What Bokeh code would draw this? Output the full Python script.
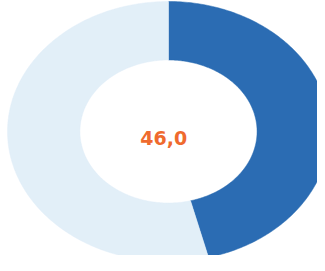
import numpy as np
from bokeh.plotting import figure
from bokeh.models import Range1d, ColumnDataSource
from bokeh.core.properties import value
from bokeh.embed import file_html
from bokeh.resources import INLINE

# data
categories = ["Share", "Rest"]
values = [46.0, 54.0]
colors = ["#2b6cb3", "#e2eff8"]
center_label = "46,0"

# layout (ellipse radii in px, used to set ranges)
W, H = 317, 255
cx, cy = 168, 131          # centre in plot pixels
rx, ry = 161, 130          # outer radii in pixels
inner = 0.55

p = figure(width=W, height=H, output_backend="svg", toolbar_location=None,
           x_range=Range1d(-cx / rx, (W - cx) / rx),
           y_range=Range1d(-(H - cy) / ry, cy / ry),
           min_border=0)
p.axis.visible = False
p.grid.visible = False
p.outline_line_color = None
p.background_fill_color = "white"
p.border_fill_color = "white"

total = sum(values)
cum = np.cumsum([0] + values) / total
xs, ys = [], []
for i in range(len(values)):
    a0, a1 = cum[i] * 2 * np.pi, cum[i + 1] * 2 * np.pi
    t = np.linspace(a0, a1, 200)
    ox, oy = np.sin(t), np.cos(t)
    ix, iy = inner * np.sin(t[::-1]), inner * np.cos(t[::-1])
    xs.append(list(np.concatenate([ox, ix])))
    ys.append(list(np.concatenate([oy, iy])))

src = ColumnDataSource(dict(xs=xs, ys=ys, color=colors, cat=categories))
p.patches("xs", "ys", fill_color="color", line_color="color", line_width=0.5, source=src)

p.text(x=[-0.03], y=[-0.05], text=[center_label], text_font=value("DejaVu Sans"),
       text_font_style="bold", text_font_size="19px", text_color="#ef6a2e",
       text_align="center", text_baseline="middle")

open("out.html", "w").write(file_html(p, INLINE))
